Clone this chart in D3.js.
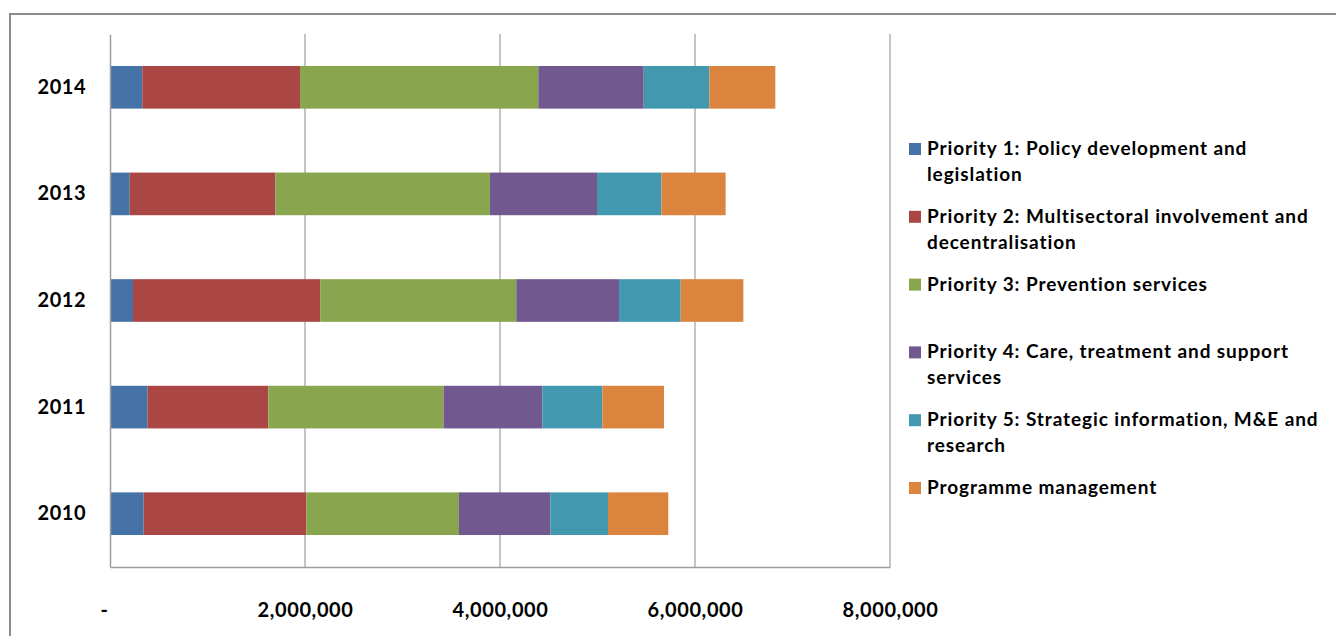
<!DOCTYPE html>
<html>
<head>
<meta charset="utf-8">
<script src="https://cdn.jsdelivr.net/npm/d3@7"></script>
<style>
  body { margin: 0; background: #fff; }
  text { font-family: Lato, "Liberation Sans", sans-serif; font-weight: bold; fill: #000; }
</style>
</head>
<body>
<div class="chart"></div>
<script>
// Stacked horizontal bar chart: budget by priority and year
var years = ["2014", "2013", "2012", "2011", "2010"];
var seriesNames = [
  "Priority 1: Policy development and legislation",
  "Priority 2: Multisectoral involvement and decentralisation",
  "Priority 3: Prevention services",
  "Priority 4: Care, treatment and support services",
  "Priority 5: Strategic information, M&E and research",
  "Programme management"
];
// legend lines as wrapped in the picture
var legendLines = [
  ["Priority 1: Policy development and", "legislation"],
  ["Priority 2: Multisectoral involvement and", "decentralisation"],
  ["Priority 3: Prevention services"],
  ["Priority 4: Care, treatment and support", "services"],
  ["Priority 5: Strategic information, M&E and", "research"],
  ["Programme management"]
];
var p1 = [331000, 202000, 236000, 386000, 345000];
var p2 = [1618000, 1494000, 1921000, 1238000, 1669000];
var p3 = [2444000, 2201000, 2010000, 1798000, 1565000];
var p4 = [1081000, 1098000, 1054000, 1012000, 937000];
var p5 = [673000, 660000, 632000, 616000, 592000];
var pm = [677000, 659000, 643000, 632000, 618000];
var xTicks = [0, 2000000, 4000000, 6000000, 8000000];
var colors = ["#4572A7", "#AA4643", "#89A54E", "#71588F", "#4198AF", "#DB843D"];

var svgWidth = 1336;
var svgHeight = 636;
var margin = {top: 34, right: 446, bottom: 69, left: 110};
var width = svgWidth - margin.left - margin.right;
var height = svgHeight - margin.top - margin.bottom;

var svg = d3.select(".chart").append("svg")
  .attr("width", svgWidth)
  .attr("height", svgHeight);

// outer frame (only top and left edges fall inside the picture)
svg.append("rect")
  .attr("x", 10).attr("y", 14)
  .attr("width", 1400).attr("height", 700)
  .attr("fill", "none")
  .attr("stroke", "#8c8c8c")
  .attr("stroke-width", 2);

var chart = svg.append("g")
  .attr("transform", "translate(" + margin.left + "," + margin.top + ")");

var keys = ["p1", "p2", "p3", "p4", "p5", "pm"];
var arrays = [p1, p2, p3, p4, p5, pm];
var table = years.map(function(y, i) {
  var row = {year: y};
  keys.forEach(function(k, j) { row[k] = arrays[j][i]; });
  return row;
});

var xScale = d3.scaleLinear().domain([0, 8000000]).range([0, width]);
var yScale = d3.scaleBand().domain(years).range([0, height])
  .paddingInner(0.6).paddingOuter(0.3);

// gridlines
chart.append("g")
  .selectAll("line")
  .data(xTicks.slice(1))
  .enter()
  .append("line")
  .attr("x1", function(d) { return xScale(d); })
  .attr("x2", function(d) { return xScale(d); })
  .attr("y1", 0)
  .attr("y2", height)
  .attr("stroke", "#9e9e9e")
  .attr("stroke-width", 1.2);

var stack = d3.stack().keys(keys)(table);

chart.append("g")
  .selectAll("g")
  .data(stack)
  .enter()
  .append("g")
  .attr("fill", function(d, i) { return colors[i]; })
  .selectAll("rect")
  .data(function(d) { return d; })
  .enter()
  .append("rect")
  .attr("x", function(d) { return xScale(d[0]); })
  .attr("width", function(d) { return xScale(d[1]) - xScale(d[0]); })
  .attr("y", function(d) { return yScale(d.data.year); })
  .attr("height", yScale.bandwidth());

// axes
var bottomAxis = d3.axisBottom(xScale)
  .tickValues(xTicks)
  .tickSize(0)
  .tickPadding(36)
  .tickFormat(function(d) { return d === 0 ? "-" : d3.format(",")(d); });

var xAxis = chart.append("g")
  .attr("transform", "translate(0," + height + ")")
  .call(bottomAxis);
xAxis.select(".domain").attr("stroke", "#9e9e9e").attr("stroke-width", 1.5);
xAxis.selectAll("text").style("font-size", "20px").style("letter-spacing", "0.6px")
  .attr("dx", function(d) { return d === 0 ? "-6px" : 0; });

var leftAxis = d3.axisLeft(yScale).tickSize(0).tickPadding(24);
var yAxis = chart.append("g").call(leftAxis);
yAxis.select(".domain").attr("stroke", "#9e9e9e").attr("stroke-width", 1.5);
yAxis.selectAll("text").style("font-size", "20px").style("letter-spacing", "0.5px");

// legend
var legend = svg.append("g").attr("transform", "translate(909,155)");
var item = legend.selectAll("g")
  .data(seriesNames)
  .enter()
  .append("g")
  .attr("transform", function(d, i) { return "translate(0," + (i * 67.8) + ")"; });
item.append("rect")
  .attr("x", 0).attr("y", -12)
  .attr("width", 12).attr("height", 12)
  .attr("fill", function(d, i) { return colors[i]; });
item.append("text")
  .style("font-size", "19px")
  .style("letter-spacing", "0.9px")
  .selectAll("tspan")
  .data(function(d, i) { return legendLines[i]; })
  .enter()
  .append("tspan")
  .attr("x", 18)
  .attr("y", function(d, j) { return j * 26; })
  .text(function(d) { return d; });
</script>
</body>
</html>
